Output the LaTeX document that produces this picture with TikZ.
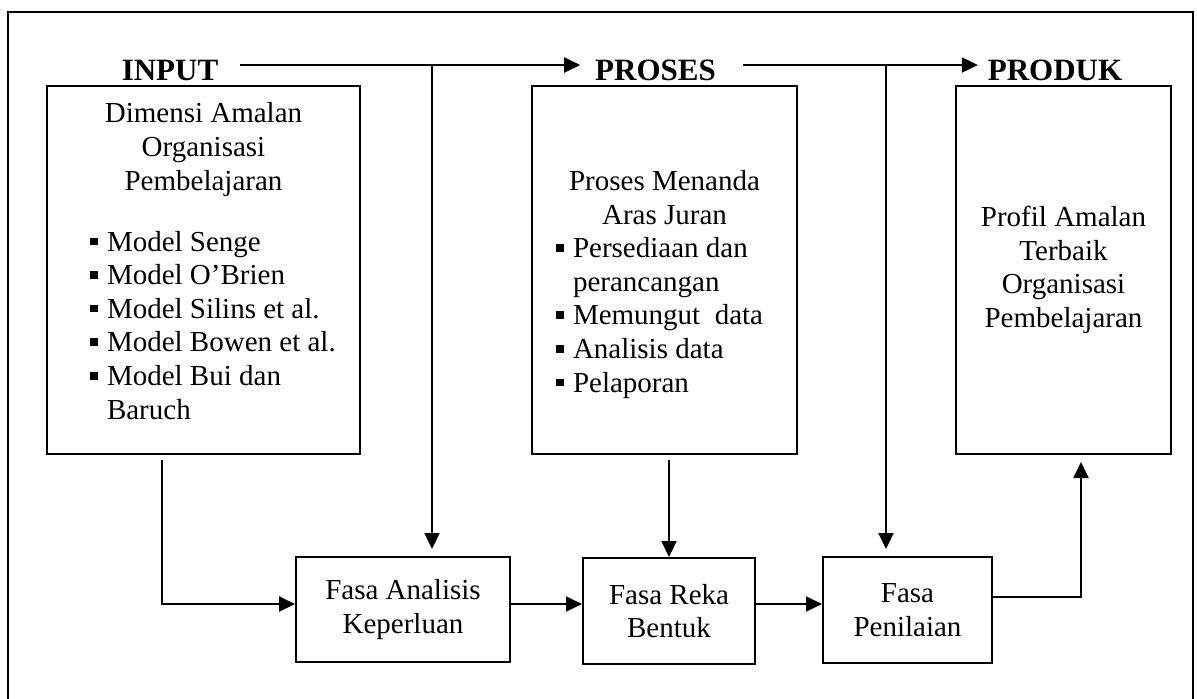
\documentclass[tikz,border=0pt]{standalone}
\usepackage{fontspec}
\setmainfont{Liberation Serif}
\usetikzlibrary{arrows.meta}
\newcommand{\bul}{\makebox[8.5pt][l]{\rule[2.9pt]{4pt}{3.8pt}}}

\begin{document}
\begin{tikzpicture}[x=0.5pt,y=-0.5pt,line width=1pt,
    arr/.style={draw,-{Triangle[length=8pt,width=7.5pt]}},
    box/.style={draw,rectangle,inner sep=0pt},
    head/.style={font=\fontsize{15.5}{18}\selectfont\bfseries,inner sep=0pt,anchor=base},
    txt/.style={font=\fontsize{14.5}{16.8}\selectfont,inner sep=0pt}]
  \useasboundingbox (0,0) rectangle (1197,698);
  \draw[line width=1.25pt] (8,705) -- (8,12) -- (1193,12) -- (1193,705);

  % headings
  \node[head] (inp) at (170,80) {INPUT};
  \node[head] (pros) at (655.5,80) {PROSES};
  \node[head] (prod) at (1055,80) {PRODUK};

  % big boxes (base of a text block = base of its last line)
  \node[box,minimum width=156.5pt,minimum height=184pt] (lb) at (203.5,270) {};
  \node[txt,anchor=base,align=center] (lbt) at (203.5,190)
       {Dimensi Amalan\\Organisasi\\Pembelajaran};
  \node[txt,anchor=base west,align=left] (lbl) at (89,419)
       {\bul Model Senge\\\bul Model O’Brien\\\bul Model Silins et al.\\\bul Model Bowen et al.\\\bul Model Bui dan\\\hspace*{8.5pt}Baruch};

  \node[box,minimum width=132.5pt,minimum height=184pt] (pb) at (664.5,270) {};
  \node[txt,anchor=base,align=center] (pbt) at (664.5,224)
       {Proses Menanda\\Aras Juran};
  \node[txt,anchor=base west,align=left] (pbl) at (555,392)
       {\bul Persediaan dan\\\hspace*{8.5pt}perancangan\\\bul Memungut\ \ data\\\bul Analisis data\\\bul Pelaporan};

  \node[box,txt,align=center,minimum width=107.5pt,minimum height=184pt] (pk) at (1063.5,270)
       {Profil Amalan\\Terbaik\\Organisasi\\Pembelajaran};

  % phase boxes
  \node[box,txt,align=center,minimum width=107pt,minimum height=52.5pt] (fa) at (403,609.5)
       {Fasa Analisis\\Keperluan};
  \node[box,txt,align=center,minimum width=86pt,minimum height=53pt] (rb) at (669,611)
       {Fasa Reka\\Bentuk};
  \node[box,txt,align=center,minimum width=84.5pt,minimum height=53pt] (pn) at (907.5,610)
       {Fasa\\Penilaian};

  \coordinate (j1) at (432,65);
  \coordinate (j2) at (886,65);
  \coordinate (lx) at (162,0);
  \coordinate (ln) at (0,604);
  \coordinate (ln2) at (1081,597);

  % top arrows
  \draw[arr,shorten <=10.5pt,shorten >=7pt] (inp.east |- j1) -- (pros.west |- j1);
  \draw[arr,shorten <=13pt,shorten >=4.5pt] (pros.east |- j2) -- (prod.west |- j2);
  \draw[arr,shorten >=3.5pt] (j1) -- (j1 |- fa.north);
  \draw[arr,shorten >=3.5pt] (j2) -- (j2 |- pn.north);

  % bottom arrows
  \draw[arr,shorten <=2.5pt] (lb.south -| lx) |- (fa.west |- ln);
  \draw[arr,shorten <=2.5pt] (pb.south -| rb.north) -- (rb.north);
  \draw[arr] (fa.east |- ln) -- (rb.west |- ln);
  \draw[arr] (rb.east |- ln) -- (pn.west |- ln);
  \draw[arr,shorten >=3.5pt] (pn.east |- ln2) -| (pk.south -| ln2);
\end{tikzpicture}
\end{document}
